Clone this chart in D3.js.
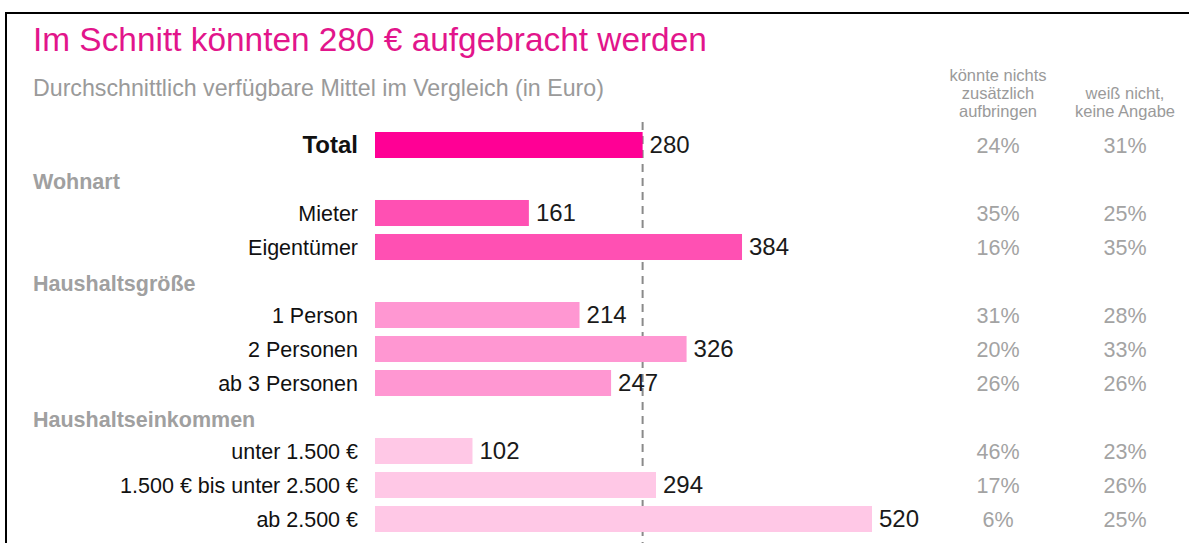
<!DOCTYPE html>
<html>
<head>
<meta charset="utf-8">
<script src="https://cdn.jsdelivr.net/npm/d3@7"></script>
<style>
  body { margin: 0; background: #fff; }
  svg { display: block; font-family: "Liberation Sans", Arial, Helvetica, sans-serif; }
</style>
</head>
<body>
<div id="chart"></div>
<script>
// Daten
var categories = ["Total", "Mieter", "Eigentümer", "1 Person", "2 Personen", "ab 3 Personen",
  "unter 1.500 €", "1.500 € bis unter 2.500 €", "ab 2.500 €"];
var categoryGroups = ["", "Wohnart", "Wohnart", "Haushaltsgröße", "Haushaltsgröße", "Haushaltsgröße",
  "Haushaltseinkommen", "Haushaltseinkommen", "Haushaltseinkommen"];
var groups = ["Wohnart", "Haushaltsgröße", "Haushaltseinkommen"];
var amounts = [280, 161, 384, 214, 326, 247, 102, 294, 520];
var cannotPay = [24, 35, 16, 31, 20, 26, 46, 17, 6];
var dontKnow = [31, 25, 35, 28, 33, 26, 23, 26, 25];
var average = 280;
var colHeaders = [["könnte nichts", "zusätzlich", "aufbringen"], ["weiß nicht,", "keine Angabe"]];

var title = "Im Schnitt könnten 280 € aufgebracht werden";
var subtitle = "Durchschnittlich verfügbare Mittel im Vergleich (in Euro)";

var width = 1189, height = 543;
var groupColor = {"": "#ff0095", "Wohnart": "#ff50b3", "Haushaltsgröße": "#ff97d2", "Haushaltseinkommen": "#ffc8e6"};

// Zeilen: Kategorien plus Gruppenüberschriften
var rows = [];
var lastGroup = "";
categories.forEach(function(c, i) {
  var g = categoryGroups[i];
  if (g !== lastGroup && g !== "") {
    rows.push({key: "h_" + g, header: g});
    lastGroup = g;
  }
  rows.push({key: c, label: c, value: amounts[i], p1: cannotPay[i], p2: dontKnow[i], group: g});
});

var svg = d3.select("#chart").append("svg")
  .attr("width", width)
  .attr("height", height);

svg.append("rect").attr("width", width).attr("height", height).attr("fill", "#fff");

// Rahmen
svg.append("path")
  .attr("d", "M6," + height + "V13H" + width)
  .attr("fill", "none")
  .attr("stroke", "#000")
  .attr("stroke-width", 2);

svg.append("text")
  .attr("x", 33).attr("y", 51)
  .attr("font-size", 33.4)
  .attr("fill", "#e2158b")
  .text(title);

svg.append("text")
  .attr("x", 33).attr("y", 96)
  .attr("font-size", 23.2)
  .attr("fill", "#9a9a9a")
  .text(subtitle);

var x = d3.scaleLinear().domain([0, 520]).range([375, 872]);
var y = d3.scaleBand()
  .domain(rows.map(function(d) { return d.key; }))
  .range([128, 536])
  .paddingInner(0.235)
  .paddingOuter(0.1175);

var colX = [998, 1125];

// Spaltenüberschriften
colHeaders.forEach(function(lines, j) {
  svg.append("text")
    .attr("text-anchor", "middle")
    .attr("font-size", 16.5)
    .attr("fill", "#9a9a9a")
    .selectAll("tspan")
    .data(lines)
    .enter().append("tspan")
    .attr("x", colX[j])
    .attr("y", function(d, i) { return 117 - (lines.length - 1 - i) * 18; })
    .text(function(d) { return d; });
});

// Durchschnittslinie
svg.append("line")
  .attr("x1", x(average)).attr("x2", x(average))
  .attr("y1", 122).attr("y2", height)
  .attr("stroke", "#8a8a8a")
  .attr("stroke-width", 2)
  .attr("stroke-dasharray", "8,6");

var headers = rows.filter(function(d) { return d.header; });
var bars = rows.filter(function(d) { return !d.header; });

svg.selectAll(".header")
  .data(headers)
  .enter().append("text")
  .attr("class", "header")
  .attr("x", 33)
  .attr("y", function(d) { return y(d.key) + y.bandwidth() - 3; })
  .attr("font-size", 21.5)
  .attr("font-weight", "bold")
  .attr("fill", "#a0a0a0")
  .text(function(d) { return d.header; });

svg.selectAll(".bar")
  .data(bars)
  .enter().append("rect")
  .attr("class", "bar")
  .attr("x", x(0))
  .attr("y", function(d) { return y(d.key); })
  .attr("width", function(d) { return x(d.value) - x(0); })
  .attr("height", y.bandwidth())
  .attr("fill", function(d) { return groupColor[d.group]; });

svg.selectAll(".label")
  .data(bars)
  .enter().append("text")
  .attr("class", "label")
  .attr("x", 358)
  .attr("y", function(d) { return y(d.key) + y.bandwidth() / 2; })
  .attr("dy", "0.35em")
  .attr("text-anchor", "end")
  .attr("font-size", function(d) { return d.group === "" ? 24 : 21.5; })
  .attr("font-weight", function(d) { return d.group === "" ? "bold" : "normal"; })
  .attr("fill", "#111")
  .text(function(d) { return d.label; });

svg.selectAll(".value")
  .data(bars)
  .enter().append("text")
  .attr("class", "value")
  .attr("x", function(d) { return x(d.value) + 7; })
  .attr("y", function(d) { return y(d.key) + y.bandwidth() / 2; })
  .attr("dy", "0.35em")
  .attr("font-size", 24)
  .attr("fill", "#1a1a1a")
  .text(function(d) { return d.value; });

["p1", "p2"].forEach(function(k, j) {
  svg.selectAll(".pct" + j)
    .data(bars)
    .enter().append("text")
    .attr("class", "pct" + j)
    .attr("x", colX[j])
    .attr("y", function(d) { return y(d.key) + y.bandwidth() / 2; })
    .attr("dy", "0.35em")
    .attr("text-anchor", "middle")
    .attr("font-size", 21.5)
    .attr("fill", "#a3a3a3")
    .text(function(d) { return d[k] + "%"; });
});
</script>
</body>
</html>
